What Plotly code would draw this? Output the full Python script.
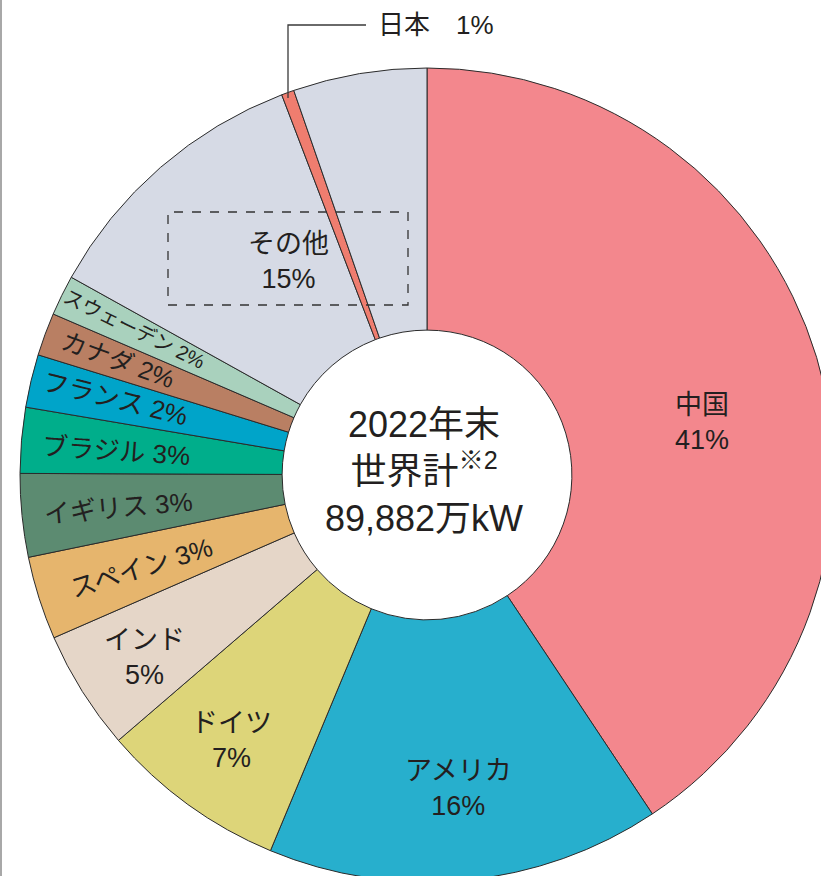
import plotly.graph_objects as go

countries = ["中国", "アメリカ", "ドイツ", "インド", "スペイン", "イギリス", "ブラジル",
             "フランス", "カナダ", "スウェーデン", "その他", "日本", "その他"]
shares = [40.6, 15.6, 7.4, 4.75, 3.3, 3.3, 2.6, 2.1, 1.7, 1.6, 11.1, 0.5, 5.3]
colors = ["#F3878D", "#27AFCD", "#DDD579", "#E5D6C8", "#E6B56D", "#5C8B71", "#00AE8B",
          "#00A4C9", "#B97F63", "#A9D1BD", "#D6DAE5", "#EF7D6F", "#D6DAE5"]
label_pct = {"中国": "41%", "アメリカ": "16%", "ドイツ": "7%", "インド": "5%",
             "スペイン": "3%", "イギリス": "3%", "ブラジル": "3%", "フランス": "2%",
             "カナダ": "2%", "スウェーデン": "2%", "その他": "15%", "日本": "1%"}
center_lines = ["2022年末", "世界計<sup>※2</sup>", "89,882万kW"]

W, H = 840, 890
FONT = "Liberation Sans, Noto Sans CJK JP"
TXT = "#231F20"


def px(x, y):
    return x / W, 1 - y / H


fig = go.Figure(go.Pie(
    labels=[f"{c}{i}" for i, c in enumerate(countries)],
    values=shares,
    sort=False,
    direction="clockwise",
    rotation=0,
    hole=0.356,
    marker=dict(colors=colors, line=dict(color="#2B2B2B", width=1)),
    textinfo="none",
    hoverinfo="skip",
    showlegend=False,
    domain=dict(x=[20 / W, 834 / W], y=[1 - 882 / H, 1 - 68 / H]),
))

ann = []


def add(text, x, y, size=24, angle=0):
    ax, ay = px(x, y)
    ann.append(dict(text=text, x=ax, y=ay, xref="paper", yref="paper",
                    xanchor="center", yanchor="middle", showarrow=False,
                    textangle=angle, font=dict(family=FONT, size=size, color=TXT)))


def two(name, x, y, size=27):
    add(name + "<br>" + label_pct[name], x, y, size)


# two-line labels
two("中国", 702, 422)
two("アメリカ", 459, 788)
two("ドイツ", 231, 740)
two("インド", 144, 657)
two("その他", 288, 262)
# rotated one-line labels
add("スペイン " + label_pct["スペイン"], 141, 568, 26, -17)
add("イギリス " + label_pct["イギリス"], 118, 508, 26, -5)
add("ブラジル " + label_pct["ブラジル"], 116, 451, 26, 4)
add("フランス " + label_pct["フランス"], 115, 399, 26, 14)
add("カナダ " + label_pct["カナダ"], 118, 360, 25, 20)
add("スウェーデン " + label_pct["スウェーデン"], 134, 329, 20, 26)
# Japan callout
add("日本　" + label_pct["日本"], 436, 25, 26)
# centre text
add("<br>".join(center_lines), 424, 471, 36)

shapes = []
# Japan leader line
x0, y0 = px(366, 25); x1, y1 = px(288, 25); x2, y2 = px(288, 98)
shapes.append(dict(type="path", xref="paper", yref="paper",
                   path=f"M {x0} {y0} L {x1} {y1} L {x2} {y2}",
                   line=dict(color="#3A3A3A", width=1.3)))
# dashed box around その他
bx0, by0 = px(168, 212); bx1, by1 = px(408, 305)
shapes.append(dict(type="rect", xref="paper", yref="paper", x0=bx0, y0=by1, x1=bx1, y1=by0,
                   line=dict(color="#333333", width=1.3, dash="dash")))
# left grey frame line
lx, _ = px(1, 0)
shapes.append(dict(type="line", xref="paper", yref="paper", x0=lx, x1=lx, y0=0, y1=1,
                   line=dict(color="#A8A8A8", width=2)))

fig.update_layout(width=W, height=H, margin=dict(l=0, r=0, t=0, b=0),
                  paper_bgcolor="white", plot_bgcolor="white",
                  annotations=ann, shapes=shapes)

fig.write_html("out.html", config={"displayModeBar": False},
               post_script="document.body.style.margin='0';"
                           "document.body.style.overflow='hidden';"
                           "document.documentElement.style.overflow='hidden';")
